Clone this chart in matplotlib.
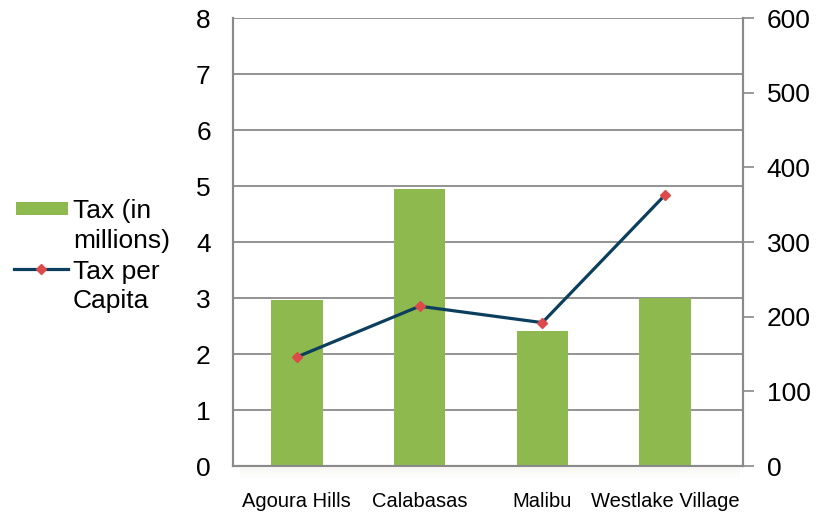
import matplotlib
matplotlib.use("Agg")
import matplotlib.pyplot as plt
from matplotlib.patches import Rectangle
from matplotlib.lines import Line2D
import numpy as np

plt.rcParams['font.family'] = ['Liberation Sans', 'DejaVu Sans']

cities = ["Agoura Hills", "Calabasas", "Malibu", "Westlake Village"]
tax_millions = [2.97, 4.95, 2.41, 3.0]
tax_per_capita = [146, 214, 192, 363]
left_ticks = [0, 1, 2, 3, 4, 5, 6, 7, 8]
right_ticks = [0, 100, 200, 300, 400, 500, 600]
legend_lines = [["Tax (in", "millions)"], ["Tax per", "Capita"]]

green = "#8db94f"
navy = "#0c3f5e"
red = "#de4a4a"
grid_gray = "#8a8a8a"

W, H = 819, 514
fig = plt.figure(figsize=(W / 100, H / 100), dpi=100)
ax = fig.add_axes([233 / W, 1 - 466 / H, 510 / W, 448 / H])
ax2 = ax.twinx()

x = np.arange(len(cities))
ax.bar(x, tax_millions, width=0.42, color=green, zorder=3)
ax.set_xlim(-0.52, 3.635)
ax.set_ylim(0, 8)
ax.set_yticks(left_ticks)
ax.yaxis.grid(True, color=grid_gray, linewidth=1.3, zorder=0)
ax.set_axisbelow(True)
ax.tick_params(axis='y', length=0, pad=16, labelsize=19)
ax.tick_params(axis='x', length=0, pad=19, labelsize=14.5)
ax.set_xticks(x)
ax.set_xticklabels(cities)
ax.get_xticklabels()[3].set_x(3.1)

ax2.plot(x, tax_per_capita, color=navy, linewidth=2.3, zorder=4,
         marker='D', markersize=5, markerfacecolor=red, markeredgecolor=red)
ax2.set_ylim(0, 600)
ax2.set_yticks(right_ticks)
ax2.tick_params(axis='y', length=8, width=1.2, color=grid_gray, pad=9, labelsize=19)

for a in (ax, ax2):
    a.spines['top'].set_visible(False)
    for s in ('left', 'right', 'bottom'):
        a.spines[s].set_color(grid_gray)
        a.spines[s].set_linewidth(1.5)

# soft shadow beneath the plotting area
for i, alpha in enumerate([0.10, 0.07, 0.05, 0.03, 0.015]):
    fig.patches.append(Rectangle((240 / W, 1 - (468 + 2 * i + 2) / H), 500 / W, 2 / H,
                                 transform=fig.transFigure, color="#b8b090", alpha=alpha,
                                 linewidth=0, zorder=0))

# legend, with each key aligned to the first line of its label
fig.patches.append(Rectangle((16 / W, 1 - 215 / H), 52 / W, 13 / H,
                             transform=fig.transFigure, color=green, linewidth=0))
fig.lines.append(Line2D([14 / W, 68 / W], [1 - 269 / H, 1 - 269 / H],
                        transform=fig.transFigure, color=navy, linewidth=2.3))
fig.lines.append(Line2D([41 / W], [1 - 269 / H], transform=fig.transFigure,
                        marker='D', markersize=5, color=red, linestyle='none'))
baselines = [[218, 248], [279, 308]]
for lines, bases in zip(legend_lines, baselines):
    for txt, b in zip(lines, bases):
        fig.text(73 / W, 1 - b / H, txt, fontsize=19, ha='left', va='baseline')

fig.savefig("out.png", dpi=100)
